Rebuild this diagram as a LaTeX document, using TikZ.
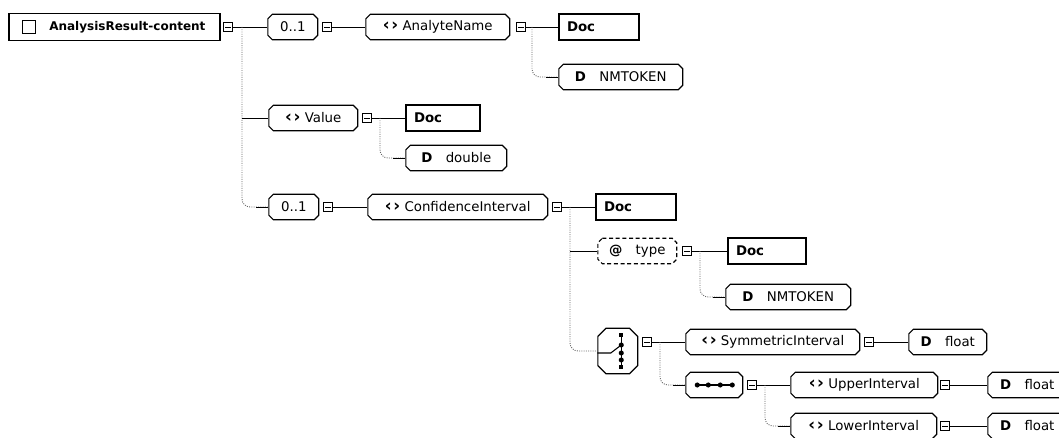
\documentclass[tikz,border=0pt]{standalone}
\usepackage{fontspec}
\setmainfont{DejaVu Sans}
\usepackage{tikz}

% octagon outline drawn inside a node's box
\newcommand\chamferpath[2][]{%
	\draw[line width=0.9pt,#1]
		([shift={(#2,-.45pt)}]path picture bounding box.north west) -- ([shift={(-#2,-.45pt)}]path picture bounding box.north east)
		-- ([shift={(-.45pt,-#2)}]path picture bounding box.north east) -- ([shift={(-.45pt,#2)}]path picture bounding box.south east)
		-- ([shift={(-#2,.45pt)}]path picture bounding box.south east) -- ([shift={(#2,.45pt)}]path picture bounding box.south west)
		-- ([shift={(.45pt,#2)}]path picture bounding box.south west) -- ([shift={(.45pt,-#2)}]path picture bounding box.north west) -- cycle;}
\newcommand\chev{{\fontsize{12.5}{12}\selectfont\bfseries ‹\kern1.2pt›}}

\begin{document}
\begin{tikzpicture}[
		x=0.75pt, y=-0.75pt,
		every node/.style = {font=\fontsize{10}{12}\selectfont, inner sep=0pt, anchor=west},
		boxw/.style       = {minimum width=#1*0.75pt},
		elem/.style       = {rectangle, minimum height=20pt, path picture={\chamferpath{3.8pt}}},
		attr/.style       = {rectangle, minimum height=20pt, path picture={\chamferpath[densely dashed]{3.8pt}}},
		group/.style      = {rectangle, path picture={\chamferpath{#1}}},
		doc/.style        = {rectangle, draw, line width=1.5pt, minimum height=19.5pt, text width=#1*0.75pt-12pt, inner xsep=6pt, align=left, font=\fontsize{10}{12}\selectfont\bfseries},
		toggle/.style     = {rectangle, draw, line width=0.7pt, minimum size=6.8pt, path picture={\draw[line width=0.7pt] ([xshift=1.2pt]path picture bounding box.west) -- ([xshift=-1.2pt]path picture bounding box.east);}},
		hline/.style      = {draw, line width=0.7pt},
		branch/.style     = {draw=black!60, line width=0.7pt, densely dotted, rounded corners=6pt},
		]
		\useasboundingbox (0,0) rectangle (1059,438);
		\clip (0,0) rectangle (1059,438);

		\node[draw, line width=1.2pt, boxw=211, minimum height=20pt] (root) at (8,27) {};
		\node[draw, line width=0.8pt, minimum size=9.5pt] (rooticon) at (22,27) {};
		\node[font=\fontsize{9}{11}\selectfont\bfseries] (rootname) at (49,27) {AnalysisResult-content};
		\node[toggle] (t0) at (223,27) {};

		\node[elem, boxw=51] (occ1) at (267,27) {0..1};
		\node[toggle] (t1) at (322,27) {};
		\node[elem, boxw=145] (aname) at (365,27) {\chev\ AnalyteName};
		\node[toggle] (t2) at (516,27) {};
		\node[doc=80] (doc1) at (558,27) {Doc};
		\node[elem, boxw=125] (nmtok1) at (558,77) {\textbf{D}\quad NMTOKEN};

		\node[elem, boxw=90] (value) at (268,118) {\chev\ Value};
		\node[toggle] (t3) at (362,118) {};
		\node[doc=74] (doc2) at (405,118) {Doc};
		\node[elem, boxw=102] (dbl) at (405,158) {\textbf{D}\quad double};

		\node[elem, boxw=51] (occ2) at (268,207) {0..1};
		\node[toggle] (t4) at (323,207) {};
		\node[elem, boxw=181] (conf) at (367,207) {\chev\ ConfidenceInterval};
		\node[toggle] (t5) at (552,207) {};
		\node[doc=80] (doc3) at (595,207) {Doc};
		\node[attr, boxw=80] (type) at (597,251) {\textbf{@}\quad type};
		\node[toggle] (t6) at (682,251) {};
		\node[doc=78] (doc4) at (727,251) {Doc};
		\node[elem, boxw=126] (nmtok2) at (725,297) {\textbf{D}\quad NMTOKEN};

		\node[group=6.5pt, boxw=41, minimum height=35pt] (choice) at (597,351) {};
		\node[toggle] (t7) at (642,342) {};
		\node[elem, boxw=175] (sym) at (685,342) {\chev\ SymmetricInterval};
		\node[toggle] (t8) at (864,342) {};
		\node[elem, boxw=79] (flt1) at (908,342) {\textbf{D}\quad float};

		\node[group=3.8pt, boxw=58, minimum height=20pt] (seq) at (685,385) {};
		\node[toggle] (t9) at (747,385) {};
		\node[elem, boxw=148] (upper) at (790,385) {\chev\ UpperInterval};
		\node[toggle] (t10) at (940,385) {};
		\node[elem, boxw=80] (flt2) at (987,385) {\textbf{D}\quad float};
		\node[elem, boxw=147] (lower) at (790,426) {\chev\ LowerInterval};
		\node[toggle] (t11) at (940,426) {};
		\node[elem, boxw=80] (flt3) at (987,426) {\textbf{D}\quad float};

		% choice and sequence glyphs
		\begin{scope}[shift={(choice.center)}]
			\draw[line width=1pt] (3.5,-16) -- (3.5,16);
			\fill (3.5,-16) +(-2,-2) rectangle +(2,2);
			\fill (3.5,16) +(-2,-2) rectangle +(2,2);
			\fill (3.5,-6) circle (1.9pt) (3.5,2) circle (1.9pt) (3.5,9) circle (1.9pt);
			\draw[line width=0.8pt] (-20.5,2) -- (-7,2) -- (3.5,-6);
		\end{scope}
		\begin{scope}[shift={(seq.center)}]
			\draw[line width=1pt] (-19,0) -- (19,0);
			\fill (-17,0) circle (1.9pt) (-6,0) circle (1.9pt) (6,0) circle (1.9pt) (18,0) circle (1.9pt);
		\end{scope}

		\coordinate (b0) at (242,27);
		\coordinate (b2) at (532,27);
		\coordinate (b3) at (380,118);
		\coordinate (b5) at (570,207);
		\coordinate (b6) at (700,251);
		\coordinate (b7) at (660,342);
		\coordinate (b9) at (765,385);

		\draw[hline] (t0) -- (occ1);
		\draw[branch] (b0) |- (occ2);
		\draw[hline] (occ2.west) -- ++(-12,0);
		\draw[hline] (b0 |- value) -- (value);
		\draw[hline] (t1) -- (aname);
		\draw[hline] (t2) -- (doc1);
		\draw[branch] (b2) |- (nmtok1);
		\draw[hline] (nmtok1.west) -- ++(-12,0);
		\draw[hline] (t3) -- (doc2);
		\draw[branch] (b3) |- (dbl);
		\draw[hline] (dbl.west) -- ++(-12,0);
		\draw[hline] (t4) -- (conf);
		\draw[hline] (t5) -- (doc3);
		\draw[branch] (b5) |- (choice);
		\draw[hline] (b5 |- type) -- (type);
		\draw[hline] (t6) -- (doc4);
		\draw[branch] (b6) |- (nmtok2);
		\draw[hline] (nmtok2.west) -- ++(-12,0);
		\draw[hline] (t7) -- (sym);
		\draw[branch] (b7) |- (seq);
		\draw[hline] (seq.west) -- ++(-12,0);
		\draw[hline] (t8) -- (flt1);
		\draw[hline] (t9) -- (upper);
		\draw[branch] (b9) |- (lower);
		\draw[hline] (lower.west) -- ++(-12,0);
		\draw[hline] (t10) -- (flt2);
		\draw[hline] (t11) -- (flt3);
	\end{tikzpicture}
\end{document}
